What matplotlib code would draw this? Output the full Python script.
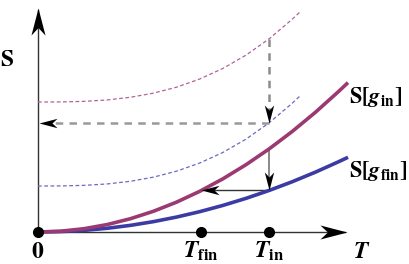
import numpy as np
import matplotlib.pyplot as plt
from matplotlib.path import Path
from matplotlib.markers import MarkerStyle
from matplotlib.transforms import Affine2D

plt.rcParams['mathtext.fontset'] = 'stix'
plt.rcParams['font.family'] = 'STIXGeneral'

# curves (T in units of T_in, S in units of S[g_in](T_in))
T = [0, 0.1, 0.2, 0.3, 0.4, 0.5, 0.6, 0.7, 0.8, 0.9, 1.0, 1.1, 1.2, 1.3, 1.342]
S_in = [0, 0.01, 0.04, 0.09, 0.16, 0.25, 0.36, 0.49, 0.64, 0.81, 1.0, 1.21, 1.44, 1.69, 1.80]
S_fin = [0, 0.005, 0.02, 0.045, 0.08, 0.125, 0.18, 0.245, 0.32, 0.405, 0.5, 0.605, 0.72, 0.845, 0.90]

Td = [0, 0.1, 0.2, 0.3, 0.4, 0.5, 0.6, 0.7, 0.8, 0.9, 1.0, 1.1, 1.134]
S_in_dash = [1.566, 1.567, 1.574, 1.591, 1.623, 1.673, 1.745, 1.843, 1.970, 2.130, 2.326, 2.562, 2.651]
S_fin_dash = [0.554, 0.555, 0.562, 0.579, 0.611, 0.661, 0.733, 0.831, 0.958, 1.118, 1.314, 1.550, 1.639]

T_in = 1.0
T_fin = 0.707
S_top = 2.326   # dashed S[g_in] at T_in
S_mid = 1.314   # dashed S[g_fin] at T_in

purple = '#9b3a72'
blue = '#3b3ba3'

# stealth-like arrow head, tip at origin pointing to +x
head = Path([(0, 0), (-1, 0.26), (-0.72, 0), (-1, -0.26), (0, 0)],
            [Path.MOVETO, Path.LINETO, Path.LINETO, Path.LINETO, Path.CLOSEPOLY])

def arrowhead(ax, x, y, angle, size):
    m = MarkerStyle(head, transform=Affine2D().rotate_deg(angle))
    ax.plot([x], [y], marker=m, ms=size, color='k', mew=0, zorder=6)

fig = plt.figure(figsize=(4.09, 2.64), dpi=100)
ax = fig.add_axes([0, 0, 1, 1])
ax.set_xlim(-0.1645, 1.606)
ax.set_ylim(-0.3855, 2.795)
ax.axis('off')

# axes
ax.plot([0, 0], [0, 2.68], color='#333333', lw=1.0, zorder=2)
ax.plot([0, 1.33], [0, 0], color='#333333', lw=1.0, zorder=2)
arrowhead(ax, 0, 2.699, 90, 39)
arrowhead(ax, 1.338, 0, 0, 39)

# thin dashed curves
ax.plot(Td, S_in_dash, color='#b0649a', lw=0.9, dashes=(3, 2))
ax.plot(Td, S_fin_dash, color='#6a6ac0', lw=0.9, dashes=(3, 2))

# main curves
ax.plot(T, S_in, color=purple, lw=2.6, zorder=4, solid_capstyle='butt')
ax.plot(T, S_fin, color=blue, lw=2.6, zorder=3, solid_capstyle='butt')

# dashed gray arrows
ax.plot([T_in, T_in], [S_top, S_mid + 0.15], color='#8c8c8c', lw=1.8, dashes=(3, 2.5))
arrowhead(ax, T_in, S_mid, -90, 26)
ax.plot([T_in, 0.05], [S_mid, S_mid], color='#999999', lw=1.8, dashes=(3, 2.5))
arrowhead(ax, 0.004, S_mid, 180, 26)

# solid arrows
ax.plot([T_in, T_in], [S_in[10], S_fin[10] + 0.15], color='#808080', lw=1.3)
arrowhead(ax, T_in, S_fin[10], -90, 26)
ax.plot([T_in, T_fin + 0.05], [S_fin[10], S_fin[10]], color='#333333', lw=1.0)
arrowhead(ax, T_fin, S_fin[10], 180, 26)

# dots
ax.plot([0, T_fin, T_in], [0, 0, 0], 'o', color='k', ms=7, zorder=7)

fs = 17
ax.text(-0.136, 2.0, r'$\mathbf{S}$', fontsize=fs, ha='center', va='baseline')
ax.text(0, -0.313, r'$\mathbf{0}$', fontsize=fs, ha='center', va='baseline')
ax.text(T_fin, -0.313, r'$\mathbfit{T}_{\mathbf{fin}}$', fontsize=fs, ha='center', va='baseline')
ax.text(T_in, -0.313, r'$\mathbfit{T}_{\mathbf{in}}$', fontsize=fs, ha='center', va='baseline')
ax.text(1.403, -0.313, r'$\mathbfit{T}$', fontsize=fs, ha='center', va='baseline')
ax.text(1.347, 1.554, r'$\mathbf{S[}\mathbfit{g}_{\mathbf{in}}\mathbf{]}$', fontsize=16, ha='left', va='baseline')
ax.text(1.347, 0.663, r'$\mathbf{S[}\mathbfit{g}_{\mathbf{fin}}\mathbf{]}$', fontsize=16, ha='left', va='baseline')

fig.savefig('out.png', dpi=100)
